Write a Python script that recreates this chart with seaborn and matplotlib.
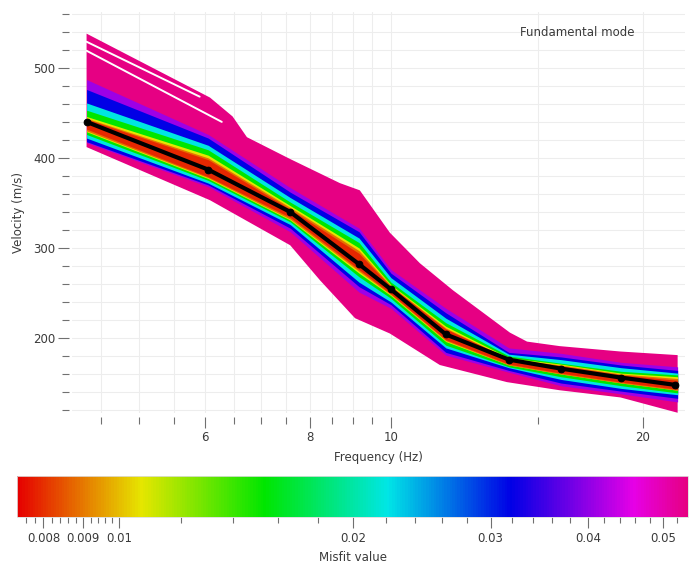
import numpy as np
import matplotlib
matplotlib.use("Agg")
import matplotlib.pyplot as plt
import seaborn as sns
from matplotlib.colors import ListedColormap, LogNorm, hsv_to_rgb
from matplotlib.cm import ScalarMappable
from matplotlib.ticker import FixedLocator, NullFormatter, MultipleLocator

# ------------------------------
# Data
# ------------------------------
# best (mean) dispersion curve
mean_freq = [4.33, 6.05, 7.58, 9.16, 10.0, 11.63, 13.83, 15.96, 18.84, 21.83]
mean_vel = [440, 387, 340, 282, 254, 204, 176, 166, 156, 148]

# outer envelope of all models (highest misfit)
pink_up_f = [4.33, 6.08, 6.47, 6.73, 7.57, 8.69, 9.18, 9.97, 10.83, 11.86, 13.87, 14.54, 15.9, 18.8, 22.0]
pink_up_v = [538, 467, 446, 423, 399, 372, 364, 317, 283, 253, 206, 196, 191, 185, 181]
pink_lo_f = [4.33, 6.08, 7.58, 8.23, 9.06, 9.97, 11.44, 13.76, 15.9, 18.8, 22.0]
pink_lo_v = [412, 353, 303, 264, 222, 205, 170, 151, 142, 134, 117]
pink_misfit = 0.0535

# white gaps between the top strands
gap1_f = [4.33, 5.91]
gap1_v = [529, 468]
gap2_f = [4.33, 6.28]
gap2_v = [519, 440]

# inner bands, from worse to better misfit
band_freq = [4.33, 6.05, 7.58, 9.16, 10.0, 11.63, 13.83, 15.96, 18.84, 22.0]
band_misfit = [0.041, 0.032, 0.022, 0.0154, 0.0107, 0.0089, 0.0079]
band_upper = [
    [487, 426, 367, 322, 276, 233, 189, 183, 173, 168],   # violet
    [476, 422, 362, 318, 272, 228, 184, 179, 170, 164],   # blue
    [461, 414, 356, 311, 267, 222, 182, 176, 167, 161],   # cyan
    [453, 409, 351, 306, 262, 217, 180, 172, 163, 159],   # green
    [446, 403, 347, 300, 259, 213, 178, 171, 161, 157],   # yellow
    [444, 400, 345, 297, 258, 211, 177, 170, 160, 155],   # orange
    [443, 398, 343, 294, 257, 210, 177, 169, 159, 153],   # red
]
band_lower = [
    [417, 368, 318, 251, 233, 181, 162, 147, 138, 129],
    [418, 370, 322, 257, 237, 184, 164, 150, 141, 133],
    [422, 372, 326, 262, 240, 189, 167, 154, 144, 137],
    [426, 375, 329, 268, 244, 192, 168, 157, 147, 139],
    [429, 377, 331, 272, 247, 196, 170, 160, 150, 142],
    [430, 378, 332, 274, 248, 197, 170, 160, 150, 142],
    [432, 379, 334, 276, 249, 198, 171, 161, 151, 143],
]

x_major = [6, 8, 10, 20]
x_minor = [4.5, 5, 5.5, 6.5, 7, 7.5, 8.5, 9, 9.5, 15]
cb_major = [0.008, 0.009, 0.01, 0.02, 0.03, 0.04, 0.05]
cb_labels = ["0.008", "0.009", "0.01", "0.02", "0.03", "0.04", "0.05"]
cb_minor = [0.0076, 0.0078, 0.0082, 0.0084, 0.0086, 0.0088, 0.0092, 0.0094, 0.0096, 0.0098,
            0.012, 0.014, 0.016, 0.018, 0.022, 0.024, 0.026, 0.028, 0.032, 0.034, 0.036,
            0.038, 0.042, 0.044, 0.046, 0.048, 0.052]

# ------------------------------
# Style
# ------------------------------
sns.set_theme(style="white")
plt.rcParams['font.family'] = ['DejaVu Sans']
text_col = '#3a3a3a'
tick_col = '#707070'

hues = np.linspace(0, 0.905, 256)
rgb = hsv_to_rgb(np.column_stack([hues, np.ones(256), np.full(256, 0.9)]))
cmap = ListedColormap(rgb)
norm = LogNorm(vmin=0.0074, vmax=0.0538)

fig = plt.figure(figsize=(6.89, 5.64), dpi=100)
ax = fig.add_axes([0.1045, 0.2677, 0.8897, 0.711])
cax = fig.add_axes([0.0247, 0.0833, 0.974, 0.0727])

# ------------------------------
# Bands
# ------------------------------
ax.fill(np.r_[pink_up_f, pink_lo_f[::-1]], np.r_[pink_up_v, pink_lo_v[::-1]],
        color=cmap(norm(pink_misfit)), lw=0, zorder=2)
ax.plot(gap1_f, gap1_v, color='white', lw=1.4, zorder=3)
ax.plot(gap2_f, gap2_v, color='white', lw=1.4, zorder=3)

for m, up, lo in zip(band_misfit, band_upper, band_lower):
    ax.fill_between(band_freq, lo, up, color=cmap(norm(m)), lw=0, zorder=4)

sns.lineplot(x=mean_freq, y=mean_vel, ax=ax, color='black', lw=3.0,
             marker='o', markersize=4.8, markeredgecolor='black', zorder=6)

# ------------------------------
# Axes
# ------------------------------
ax.set_xscale('log')
ax.set_xlim(4.16, 22.45)
ax.set_ylim(116.7, 562)
ax.xaxis.set_major_locator(FixedLocator(x_major))
ax.xaxis.set_minor_locator(FixedLocator(x_minor))
ax.set_xticklabels([str(v) for v in x_major])
ax.xaxis.set_minor_formatter(NullFormatter())
ax.yaxis.set_major_locator(MultipleLocator(100))
ax.yaxis.set_minor_locator(MultipleLocator(20))

for s in ax.spines.values():
    s.set_visible(False)
ax.spines['bottom'].set_position(('outward', 3))
ax.spines['left'].set_position(('outward', 2))

ax.tick_params(axis='both', which='major', bottom=True, left=True, length=8, width=0.8,
               color=tick_col, labelsize=8.5, labelcolor=text_col, pad=2)
ax.tick_params(axis='both', which='minor', bottom=True, left=True, length=5, width=0.8,
               color=tick_col)
ax.grid(True, which='both', color='#ededed', lw=0.8)
ax.set_axisbelow(True)

ax.set_xlabel("Frequency (Hz)", fontsize=8.5, color=text_col, labelpad=5)
ax.set_ylabel("Velocity (m/s)", fontsize=8.5, color=text_col, labelpad=6)
ax.text(0.917, 0.948, "Fundamental mode", transform=ax.transAxes, ha='right', va='center',
        fontsize=8.5, color=text_col)

# ------------------------------
# Colour bar
# ------------------------------
cbar = fig.colorbar(ScalarMappable(norm=norm, cmap=cmap), cax=cax, orientation='horizontal')
cbar.outline.set_edgecolor('#dddddd')
cbar.outline.set_linewidth(0.6)
cbar.set_ticks(cb_major, labels=cb_labels)
cax.xaxis.set_minor_locator(FixedLocator(cb_minor))
cax.xaxis.set_minor_formatter(NullFormatter())
cax.tick_params(axis='x', which='major', bottom=True, length=8, width=0.8, color=tick_col,
                labelsize=8.5, labelcolor=text_col, pad=3)
cax.tick_params(axis='x', which='minor', bottom=True, length=4, width=0.8, color=tick_col)
cbar.set_label("Misfit value", fontsize=8.5, color=text_col, labelpad=4)

fig.savefig("out.png", dpi=100)
